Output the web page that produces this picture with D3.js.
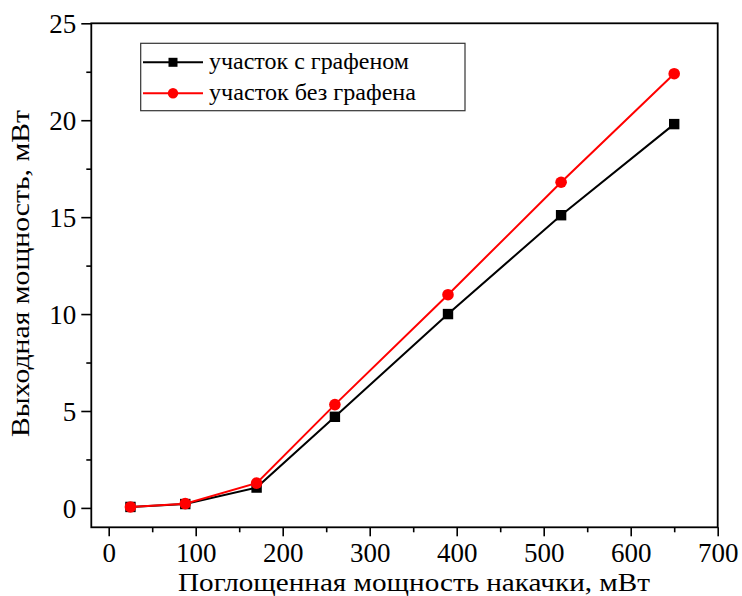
<!DOCTYPE html>
<html>
<head>
<meta charset="utf-8">
<script src="https://cdn.jsdelivr.net/npm/d3@7"></script>
<style>
  html, body { margin: 0; padding: 0; background: #fff; }
  svg { display: block; }
</style>
</head>
<body>
<svg id="chart" width="742" height="596"></svg>
<script>
// Absorbed pump power, mW
const pumpPower = [25, 88, 170, 260, 390, 520, 650];
// Output power, mW, section with graphene
const withGraphene = [0.05, 0.2, 1.05, 4.7, 10.0, 15.1, 19.8];
// Output power, mW, section without graphene
const withoutGraphene = [0.05, 0.22, 1.28, 5.33, 11.0, 16.8, 22.4];

const xTicks = [0, 100, 200, 300, 400, 500, 600, 700];
const yTicks = [0, 5, 10, 15, 20, 25];
const seriesNames = ["участок с графеном", "участок без графена"];
const xTitle = "Поглощенная мощность накачки, мВт";
const yTitle = "Выходная мощность, мВт";

const FONT = "Liberation Serif, DejaVu Serif, serif";

const svg = d3.select("#chart").attr("font-family", FONT);
const plotLeft = 91.3, plotRight = 717.7, plotTop = 23.3, plotBottom = 527.3;

const x = d3.scaleLinear().domain([-20, 700]).range([plotLeft, plotRight]);
const y = d3.scaleLinear().domain([-1, 25]).range([plotBottom, plotTop]);

// Frame
svg.append("rect")
  .attr("x", plotLeft).attr("y", plotTop)
  .attr("width", plotRight - plotLeft).attr("height", plotBottom - plotTop)
  .attr("fill", "none").attr("stroke", "#000").attr("stroke-width", 1.8);

// X axis: major + minor ticks
const xMinor = d3.range(50, 700, 100);
svg.append("g").attr("transform", `translate(0,${plotBottom})`)
  .call(d3.axisBottom(x).tickValues(xMinor).tickSize(5).tickFormat(""))
  .call(g => g.select(".domain").remove())
  .call(g => g.selectAll("line").attr("stroke-width", 1.6));
const xAxis = svg.append("g").attr("transform", `translate(0,${plotBottom})`)
  .call(d3.axisBottom(x).tickValues(xTicks).tickSize(9).tickPadding(6).tickFormat(d3.format("d")));
xAxis.attr("font-family", FONT).attr("font-size", 27);
xAxis.select(".domain").remove();
xAxis.selectAll("line").attr("stroke-width", 1.6);
xAxis.selectAll("text").attr("dy", "0.72em");

// Y axis
const yMinor = d3.range(2.5, 25, 5);
svg.append("g").attr("transform", `translate(${plotLeft},0)`)
  .call(d3.axisLeft(y).tickValues(yMinor).tickSize(5).tickFormat(""))
  .call(g => g.select(".domain").remove())
  .call(g => g.selectAll("line").attr("stroke-width", 1.6));
const yAxis = svg.append("g").attr("transform", `translate(${plotLeft},0)`)
  .call(d3.axisLeft(y).tickValues(yTicks).tickSize(10).tickPadding(5).tickFormat(d3.format("d")));
yAxis.attr("font-family", FONT).attr("font-size", 27);
yAxis.select(".domain").remove();
yAxis.selectAll("line").attr("stroke-width", 1.6);
yAxis.selectAll("text").attr("dy", "0.35em");

// Axis titles
svg.append("text")
  .attr("x", 414).attr("y", 591)
  .attr("text-anchor", "middle").attr("font-size", 26)
  .attr("textLength", 472).attr("lengthAdjust", "spacingAndGlyphs")
  .text(xTitle);
svg.append("text")
  .attr("transform", "translate(29,273.5) rotate(-90)")
  .attr("text-anchor", "middle").attr("font-size", 26)
  .attr("textLength", 327).attr("lengthAdjust", "spacingAndGlyphs")
  .text(yTitle);

// Series
const line = d3.line().x(d => x(d[0])).y(d => y(d[1]));
const blackPts = pumpPower.map((p, i) => [p, withGraphene[i]]);
const redPts = pumpPower.map((p, i) => [p, withoutGraphene[i]]);

svg.append("path").datum(blackPts).attr("d", line)
  .attr("fill", "none").attr("stroke", "#000").attr("stroke-width", 2);
svg.append("g").selectAll("rect").data(blackPts).join("rect")
  .attr("x", d => x(d[0]) - 5.2).attr("y", d => y(d[1]) - 5.2)
  .attr("width", 10.4).attr("height", 10.4).attr("fill", "#000");

svg.append("path").datum(redPts).attr("d", line)
  .attr("fill", "none").attr("stroke", "#ff0000").attr("stroke-width", 2);
svg.append("g").selectAll("circle").data(redPts).join("circle")
  .attr("cx", d => x(d[0])).attr("cy", d => y(d[1]))
  .attr("r", 5.8).attr("fill", "#ff0000");

// Legend
const lg = svg.append("g");
lg.append("rect")
  .attr("x", 140.7).attr("y", 43.3).attr("width", 324.3).attr("height", 67.4)
  .attr("fill", "#fff").attr("stroke", "#333").attr("stroke-width", 1.2);
const rows = [
  { name: seriesNames[0], color: "#000", shape: "square", yy: 62.3, len: 200 },
  { name: seriesNames[1], color: "#ff0000", shape: "circle", yy: 93.3, len: 207 }
];
rows.forEach(r => {
  lg.append("line").attr("x1", 143).attr("x2", 203).attr("y1", r.yy).attr("y2", r.yy)
    .attr("stroke", r.color).attr("stroke-width", 2);
  if (r.shape === "square") {
    lg.append("rect").attr("x", 173 - 4.5).attr("y", r.yy - 4.5)
      .attr("width", 9).attr("height", 9).attr("fill", r.color);
  } else {
    lg.append("circle").attr("cx", 173).attr("cy", r.yy).attr("r", 5.2).attr("fill", r.color);
  }
  lg.append("text").attr("x", 209).attr("y", r.yy + 6.5)
    .attr("font-size", 23)
    .attr("textLength", r.len).attr("lengthAdjust", "spacingAndGlyphs")
    .text(r.name);
});
</script>
</body>
</html>
